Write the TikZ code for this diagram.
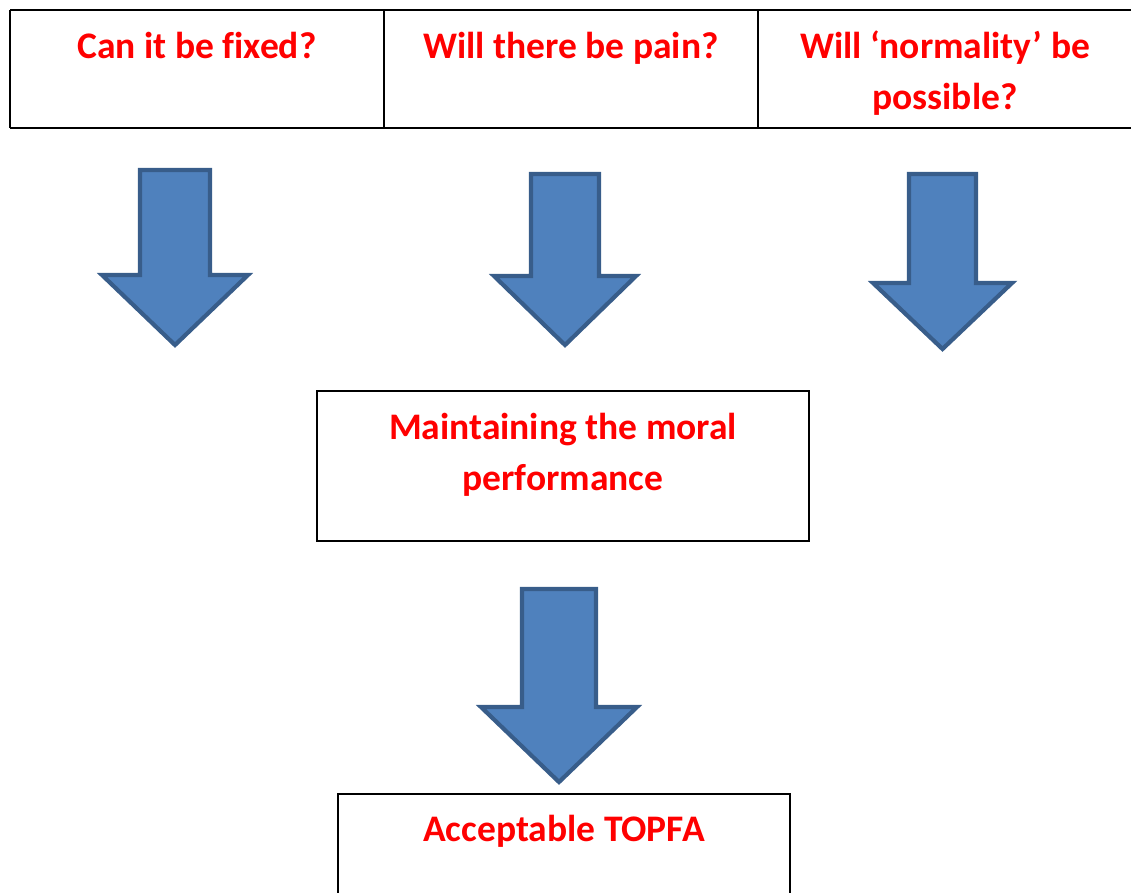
\documentclass[tikz,border=0pt]{standalone}
\usepackage{fontspec}
\setmainfont{Carlito}[Ligatures=NoCommon]
\definecolor{txtred}{HTML}{FF0000}
\definecolor{arrfill}{HTML}{4F81BD}
\definecolor{arrline}{HTML}{385D8A}
\newcommand\blockarrow[6]{% cx, top, shaft half, head y, head half, tip y
  \draw[blockarr] ({#1-#3},{-#2}) -- ({#1+#3},{-#2}) -- ({#1+#3},{-#4}) -- ({#1+#5},{-#4})
    -- (#1,{-#6}) -- ({#1-#5},{-#4}) -- ({#1-#3},{-#4}) -- cycle;}
\begin{document}
\begin{tikzpicture}[x=1pt,y=1pt,
  boxline/.style={draw=black,line width=1.8pt},
  blockarr/.style={fill=arrfill,draw=arrline,line width=4.2pt,line join=miter},
  lbl/.style={text=txtred,font=\bfseries\fontsize{37.5}{51}\selectfont,align=center,inner sep=0pt,anchor=base}]
\useasboundingbox (0,0) rectangle (1131,-893);
% top table
\draw[boxline] (10,-10) -- (1131,-10);
\draw[boxline] (10,-128) -- (1131,-128);
\draw[boxline] (10,-10) -- (10,-128);
\draw[boxline] (384,-10) -- (384,-128);
\draw[boxline] (758,-10) -- (758,-128);
\node[lbl] (q1) at (197,-59) {Can it be fixed?};
\node[lbl] (q2) at (571,-59) {Will there be pain?};
\node[lbl] (q3) at (945,-110) {Will ‘normality’ be\\possible?};
% arrows
\blockarrow{175}{170}{35}{275}{73}{345}
\blockarrow{565}{174}{34}{276}{71}{345}
\blockarrow{942.5}{174}{33.5}{283}{69.5}{349}
\blockarrow{559}{589}{37}{707}{78}{782}
% middle box
\draw[boxline] (317,-391) rectangle (809,-541);
\node[lbl] (m) at (563,-490) {Maintaining the moral\\performance};
% bottom box
\draw[boxline] (338,-894) -- (338,-794) -- (790,-794) -- (790,-894);
\node[lbl] (b) at (564,-841) {Acceptable TOPFA};
\end{tikzpicture}
\end{document}
